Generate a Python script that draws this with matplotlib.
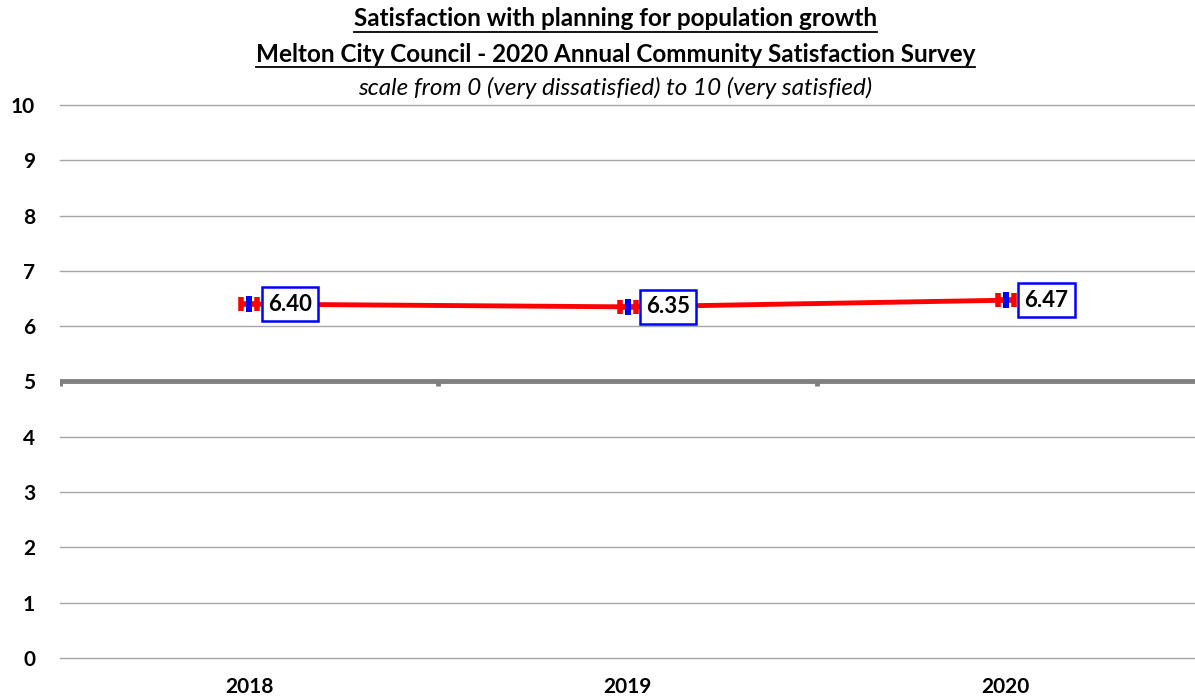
import matplotlib.pyplot as plt
from matplotlib.path import Path
from matplotlib.lines import Line2D

# === data ===
years = ["2018", "2019", "2020"]
scores = [6.40, 6.35, 6.47]
yticks = list(range(0, 11))

title1 = "Satisfaction with planning for population growth"
title2 = "Melton City Council - 2020 Annual Community Satisfaction Survey"
title3 = "scale from 0 (very dissatisfied) to 10 (very satisfied)"

plt.rcParams["font.family"] = ["Lato", "DejaVu Sans"]

fig = plt.figure(figsize=(11.95, 7.0), dpi=100)
ax = fig.add_axes([60 / 1195, 1 - 658 / 700, 1135 / 1195, 553 / 700])

x = list(range(len(years)))

# markers: red "cap" shape and blue rectangle
cap = Path([(-1, 0), (1, 0), (-1, -0.8), (-1, 0.8), (1, -0.8), (1, 0.8)],
           [Path.MOVETO, Path.LINETO, Path.MOVETO, Path.LINETO, Path.MOVETO, Path.LINETO])
rect = Path([(-0.4, -1), (0.4, -1), (0.4, 1), (-0.4, 1), (-0.4, -1)],
            [Path.MOVETO, Path.LINETO, Path.LINETO, Path.LINETO, Path.CLOSEPOLY])

ax.plot(x, scores, color="#ff0000", lw=3.5, zorder=3)
ax.plot(x, scores, ls="none", marker=cap, ms=12, mew=4, color="#ff0000", zorder=4)
ax.plot(x, scores, ls="none", marker=rect, ms=12, mew=0, color="#0000ff", zorder=5)

for xi, v in zip(x, scores):
    ax.annotate(f"{v:.2f}", (xi, v), xytext=(13.5, 0), textcoords="offset points",
                ha="left", va="center", fontsize=16, fontweight="bold",
                bbox=dict(boxstyle="square,pad=0.28", fc="white", ec="#0000ff", lw=1.8),
                zorder=6)

ax.set_xlim(-0.5, len(years) - 0.5)
ax.set_ylim(0, 10)
ax.set_yticks(yticks)
ax.set_yticklabels([str(t) for t in yticks], fontsize=15, fontweight="bold")
ax.set_xticks(x)
ax.set_xticklabels(years, fontsize=15, fontweight="bold")
ax.tick_params(axis="both", length=0)
ax.tick_params(axis="y", pad=18)
ax.tick_params(axis="x", pad=14)
for s in ax.spines.values():
    s.set_visible(False)
ax.grid(axis="y", color="#a6a6a6", lw=1)
for gl in ax.get_ygridlines():
    gl.set_clip_on(False)
ax.set_axisbelow(True)

# thick category axis crossing at 5
ax.axhline(5, color="#808080", lw=3.5, zorder=2)
for b in [-0.5, 0.5, 1.5]:
    ax.plot([b, b], [5, 4.91], color="#808080", lw=3.5, solid_capstyle="butt", zorder=2)

# titles
t1 = fig.text(0.515, 1 - 19 / 700, title1, ha="center", va="center", fontsize=17.5, fontweight="bold")
t2 = fig.text(0.515, 1 - 54 / 700, title2, ha="center", va="center", fontsize=17.5, fontweight="bold")
fig.text(0.515, 1 - 88 / 700, title3, ha="center", va="center", fontsize=17.5, style="italic")

fig.canvas.draw()
r = fig.canvas.get_renderer()
for t in (t1, t2):
    bb = t.get_window_extent(r)
    y0 = (bb.y0 - 1) / fig.bbox.height
    fig.add_artist(Line2D([bb.x0 / fig.bbox.width, bb.x1 / fig.bbox.width], [y0, y0],
                          color="black", lw=1.3, transform=fig.transFigure))

fig.savefig("out.png", dpi=100)
